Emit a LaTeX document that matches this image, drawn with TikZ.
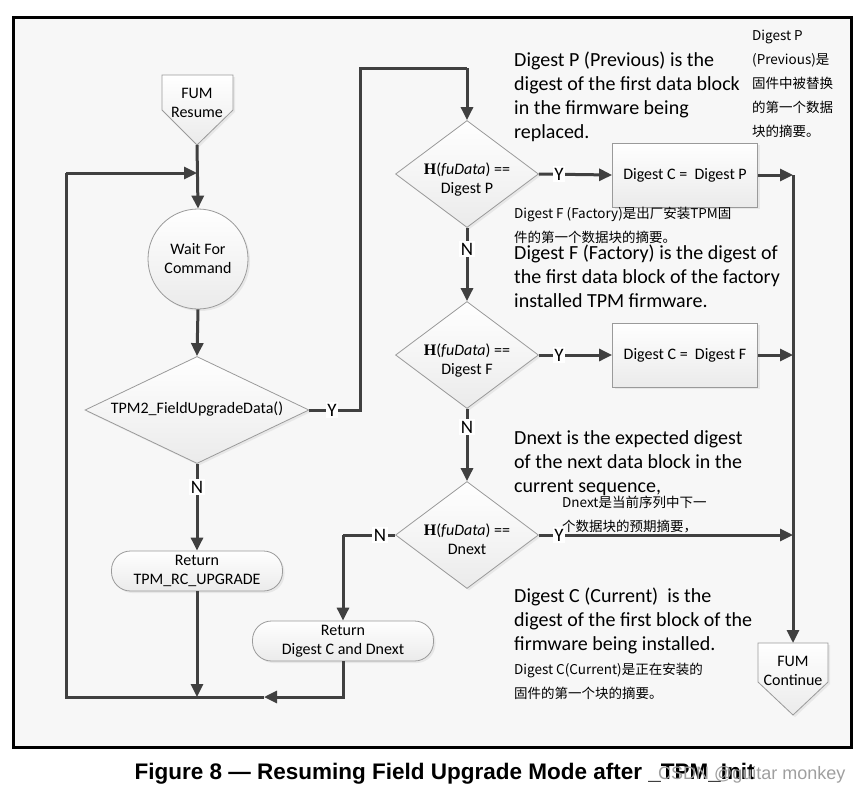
\documentclass[tikz,border=0pt]{standalone}
\usepackage{fontspec}
\setmainfont{Carlito}
\newfontfamily\cjk{Noto Sans CJK SC}
\newfontfamily\arialf{Liberation Sans}
\newfontfamily\timesf{Liberation Serif}
\usetikzlibrary{arrows.meta,shapes.geometric,shadows,calc}
\definecolor{bgc}{HTML}{F7F7F7}
\definecolor{linec}{HTML}{404040}
\definecolor{bordc}{HTML}{9A9A9A}
\newcommand{\hfu}{{\timesf\bfseries H}(\textit{fuData}) ==}
\newcommand{\dtx}[1]{\makebox[0pt]{\begin{tabular}{@{}c@{}}#1\end{tabular}}}
\newcommand{\ddtx}[1]{\raisebox{0pt}[\dimexpr\height+12pt\relax][\depth]{\dtx{#1}}}
\begin{document}
\begin{tikzpicture}[x=1pt,y=-1pt,
  conn/.style={draw=linec, line width=3pt},
  arr/.style={conn, -{Triangle[length=13pt,width=12pt]}},
  shp/.style={draw=bordc, line width=0.8pt, top color=white, bottom color=gray!16,
     drop shadow={shadow xshift=2pt,shadow yshift=-2pt,fill=gray!30}},
  ntext/.style={font=\fontsize{16}{19}\selectfont, align=center, text=black},
  dec/.style={shp, ntext, diamond, minimum width=143pt, minimum height=107pt, inner sep=0pt},
  procbox/.style={shp, ntext, rectangle, minimum width=145pt, minimum height=64pt, inner sep=0pt},
  term/.style={shp, ntext, rectangle, rounded corners=19pt, minimum height=40pt, inner sep=0pt},
  lbl/.style={fill=white, inner sep=1.5pt, font=\fontsize{19}{19}\selectfont},
  annot/.style={anchor=north west, align=left, inner sep=0pt, font=\fontsize{20}{24}\selectfont},
  annotcjk/.style={anchor=north west, align=left, inner sep=0pt, font=\cjk\fontsize{13.5}{24}\selectfont},
]
\useasboundingbox (0,0) rectangle (865,795);
% frame
\draw[line width=3pt, fill=bgc] (13,17) rectangle (851,747);

% FUM Resume
\draw[shp] (162,75) -- (233,75) -- (233,110) -- (197,145) -- (162,110) -- cycle;
\node[ntext, inner sep=0pt] (fumr) at (197,103) {FUM\\Resume};
\coordinate (fumrtip) at (197,145);

% FUM Continue
\draw[shp] (758,643) -- (828,643) -- (828,682) -- (793,715) -- (758,682) -- cycle;
\node[ntext, inner sep=0pt] (fumc) at (793,671) {FUM\\Continue};
\coordinate (fumctop) at (793,643);

\node[shp, ntext, circle, minimum size=100pt, inner sep=0pt] (wait) at (198,259) {Wait For\\Command};
\node[dec, minimum width=224pt] (d0) at (197,410) {\dtx{TPM2\_FieldUpgradeData()}};
\node[term, minimum width=171pt] (rcup) at (197,571) {Return\\TPM\_RC\_UPGRADE};
\node[term, minimum width=181pt] (rdn) at (343,641) {Return\\Digest C and Dnext};

\node[dec] (d1) at (467,174) {\ddtx{\hfu\\Digest P}};
\node[dec] (d2) at (467,355) {\ddtx{\hfu\\Digest F}};
\node[dec] (d3) at (467,535) {\ddtx{\hfu\\Dnext}};
\node[procbox] (b1) at (685,175) {Digest C = \ Digest P};
\node[procbox] (b2) at (685,355) {Digest C = \ Digest F};

% helper coordinates
\coordinate (up1) at (360,410);
\coordinate (up2) at (360,68);
\coordinate (up3) at (467,68);
\coordinate (mergeB) at (197,697);
\coordinate (tipB) at (264,697);
\coordinate (bl) at (66,697);
\coordinate (tl) at (66,173);
\coordinate (mergeA) at (197,173);
\coordinate (r1) at (793,175);
\coordinate (r2) at (793,355);
\coordinate (r3) at (793,535);
\coordinate (nl) at (343,535);

% connectors
\draw[arr] (fumrtip) -- (wait.north);
\draw[arr] (wait.south) -- (d0.north);
\draw[conn] (d0.east) -- (up1) -- (up2) -- (up3);
\draw[arr] (up3) -- (d1.north);
\draw[arr] (d0.south) -- (rcup.north);
\draw[arr] (rcup.south) -- (mergeB);
\draw[arr] (rdn.south) |- (tipB);
\draw[conn] (tipB) -- (bl) -- (tl);
\draw[arr] (tl) -- (mergeA);

\draw[arr] (d1.east) -- (b1.west);
\draw[arr] (b1.east) -- (r1);
\draw[arr] (d1.south) -- (d2.north);
\draw[arr] (d2.east) -- (b2.west);
\draw[arr] (b2.east) -- (r2);
\draw[arr] (d2.south) -- (d3.north);
\draw[arr] (d3.east) -- (r3);
\draw[conn] (d3.west) -- (nl);
\draw[arr] (nl) -- (rdn.north);
\draw[arr] (r1) -- (fumctop);

% labels
\node[lbl] (ly0) at (332,410) {Y};
\node[lbl] (ln0) at (197,487) {N};
\node[lbl] (ly1) at (559,174) {Y};
\node[lbl] (ln1) at (467,249) {N};
\node[lbl] (ly2) at (559,355) {Y};
\node[lbl] (ln2) at (467,427) {N};
\node[lbl] (ly3) at (559,535) {Y};
\node[lbl] (ln3) at (380,535) {N};

% annotations
\node[annot] (tP) at (514,52) {Digest P (Previous) is the\\digest of the first data block\\in the firmware being\\replaced.};
\node[annotcjk] (cP) at (752,30) {Digest P\\(Previous)是\\固件中被替换\\的第一个数据\\块的摘要。};
\node[annotcjk] (cF) at (514,207) {Digest F (Factory)是出厂安装TPM固\\件的第一个数据块的摘要。};
\node[annot] (tF) at (514,245) {Digest F (Factory) is the digest of\\the first data block of the factory\\installed TPM firmware.};
\node[annot] (tD) at (514,430) {Dnext is the expected digest\\of the next data block in the\\current sequence,};
\node[annotcjk] (cD) at (562,496) {Dnext是当前序列中下一\\个数据块的预期摘要，};
\node[annot] (tC) at (514,588) {Digest C (Current) \ is the\\digest of the first block of the\\firmware being installed.};
\node[annotcjk] (cC) at (514,663) {Digest C(Current)是正在安装的\\固件的第一个块的摘要。};

% caption
\node[font=\arialf\bfseries\fontsize{22.5}{24}\selectfont, anchor=west] (cap) at (131,774) {Figure 8 — Resuming Field Upgrade Mode after \_TPM\_Init};
\node[font=\arialf\fontsize{18}{20}\selectfont, text=gray!75, anchor=east] (wm) at (849,775) {CSDN @guitar monkey};
\end{tikzpicture}
\end{document}
